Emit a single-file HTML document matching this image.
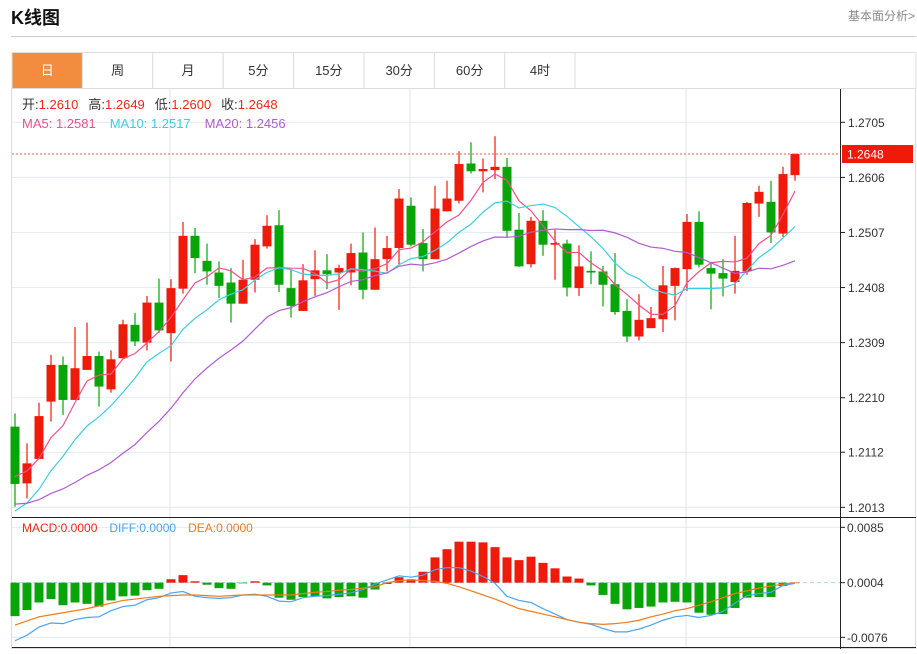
<!DOCTYPE html>
<html><head><meta charset="utf-8">
<style>
body{margin:0;background:#fff;width:917px;height:649px;overflow:hidden;font-family:"Liberation Sans","Noto Sans CJK SC",sans-serif;}
svg text{font-family:"Liberation Sans","Noto Sans CJK SC",sans-serif;}
</style></head>
<body>
<svg id="chart" width="917" height="649" xmlns="http://www.w3.org/2000/svg">
<text x="11" y="24" font-size="18" font-weight="bold" fill="#111">K线图</text>
<text x="915" y="20" font-size="12" fill="#888" text-anchor="end">基本面分析&gt;</text>
<line x1="11" y1="36.5" x2="916" y2="36.5" stroke="#ccc"/>
<g id="tabs"></g>
<rect x="11.5" y="88.5" width="904" height="560" fill="none" stroke="#ddd"/>
<g id="grid"></g><g id="main"></g><g id="macd"></g><g id="axes"></g>
<text x="22" y="109" font-size="13"><tspan fill="#333">开:</tspan><tspan fill="#f0261a">1.2610</tspan><tspan fill="#333" dx="10">高:</tspan><tspan fill="#f0261a">1.2649</tspan><tspan fill="#333" dx="10">低:</tspan><tspan fill="#f0261a">1.2600</tspan><tspan fill="#333" dx="10">收:</tspan><tspan fill="#f0261a">1.2648</tspan></text>
<text x="22" y="128" font-size="13"><tspan fill="#f0508c">MA5: 1.2581</tspan><tspan fill="#3dcde0" dx="14">MA10: 1.2517</tspan><tspan fill="#b05cd0" dx="14">MA20: 1.2456</tspan></text>
<text x="22" y="532" font-size="12"><tspan fill="#f0261a">MACD:0.0000</tspan><tspan fill="#4aa3f0" dx="12">DIFF:0.0000</tspan><tspan fill="#f07a1a" dx="12">DEA:0.0000</tspan></text>
</svg>
<script>
const opens=[1.2158,1.2056,1.2100,1.2203,1.2269,1.2206,1.2260,1.2285,1.2225,1.2281,1.2341,1.2309,1.2381,1.2326,1.2406,1.2501,1.2456,1.2435,1.2417,1.2379,1.2422,1.2482,1.2520,1.2407,1.2366,1.2423,1.2439,1.2435,1.2435,1.2471,1.2404,1.2459,1.2479,1.2555,1.2488,1.2459,1.2545,1.2564,1.2631,1.2617,1.2619,1.2625,1.2512,1.2450,1.2528,1.2485,1.2487,1.2407,1.2438,1.2437,1.2414,1.2366,1.2320,1.2335,1.2351,1.2411,1.2441,1.2526,1.2443,1.2434,1.2418,1.2437,1.2559,1.2562,1.2505,1.2610];
const closes=[1.2055,1.2092,1.2177,1.2269,1.2206,1.2263,1.2285,1.2230,1.2279,1.2342,1.2311,1.2381,1.2331,1.2407,1.2501,1.2461,1.2437,1.2411,1.2379,1.2422,1.2485,1.2519,1.2413,1.2375,1.2421,1.2439,1.2432,1.2443,1.2470,1.2404,1.2459,1.2479,1.2568,1.2485,1.2459,1.2550,1.2568,1.2630,1.2617,1.2621,1.2625,1.2510,1.2446,1.2528,1.2485,1.2488,1.2408,1.2446,1.2435,1.2413,1.2364,1.2320,1.2350,1.2353,1.2412,1.2443,1.2526,1.2449,1.2433,1.2424,1.2438,1.2560,1.2580,1.2507,1.2612,1.2648];
const highs=[1.2182,1.2128,1.2201,1.2287,1.2284,1.2337,1.2345,1.2293,1.2295,1.2350,1.2362,1.2393,1.2424,1.2423,1.2526,1.2515,1.2487,1.2455,1.2443,1.2458,1.2495,1.2538,1.2547,1.2440,1.2450,1.2475,1.2468,1.2449,1.2487,1.2507,1.2516,1.2501,1.2585,1.2570,1.2513,1.2591,1.2600,1.2653,1.2669,1.2640,1.2680,1.2641,1.2542,1.2535,1.2547,1.2512,1.2494,1.2484,1.2473,1.2447,1.2470,1.2387,1.2396,1.2373,1.2447,1.2444,1.2540,1.2545,1.2451,1.2459,1.2501,1.2562,1.2591,1.2600,1.2625,1.2649];
const lows=[1.2014,1.2029,1.2100,1.2167,1.2179,1.2206,1.2260,1.2194,1.2219,1.2281,1.2303,1.2295,1.2326,1.2275,1.2397,1.2434,1.2413,1.2389,1.2345,1.2379,1.2399,1.2478,1.2400,1.2354,1.2366,1.2393,1.2405,1.2368,1.2412,1.2387,1.2404,1.2437,1.2450,1.2482,1.2437,1.2459,1.2545,1.2559,1.2613,1.2579,1.2603,1.2498,1.2445,1.2444,1.2465,1.2422,1.2392,1.2393,1.2414,1.2374,1.2359,1.2310,1.2313,1.2335,1.2328,1.2349,1.2402,1.2444,1.2369,1.2392,1.2397,1.2431,1.2535,1.2488,1.2499,1.2600];
const prevCloses=[1.2060,1.2050,1.2045,1.2040,1.2035,1.2030,1.2025,1.2020,1.2010,1.1995,1.1950,1.1930,1.1935,1.1945,1.1965,1.2040,1.2065,1.2080,1.2100];
const macdBars=[-0.0049,-0.0040,-0.0029,-0.0024,-0.0033,-0.0029,-0.0031,-0.0035,-0.0026,-0.0020,-0.0019,-0.0011,-0.0009,0.0005,0.0011,0.0002,-0.0003,-0.0008,-0.0009,-0.0001,0.0002,-0.0004,-0.0022,-0.0025,-0.0021,-0.0020,-0.0023,-0.0021,-0.0020,-0.0022,-0.0010,-0.0002,0.0008,0.0005,0.0016,0.0037,0.0049,0.0060,0.0060,0.0059,0.0052,0.0037,0.0033,0.0038,0.0029,0.0021,0.0009,0.0006,-0.0004,-0.0018,-0.0031,-0.0039,-0.0037,-0.0035,-0.0029,-0.0028,-0.0029,-0.0044,-0.0047,-0.0046,-0.0037,-0.0022,-0.0021,-0.0021,-0.0005,0.0000];
const difValues=[-0.0085,-0.0077,-0.0065,-0.0059,-0.0060,-0.0054,-0.0051,-0.0050,-0.0041,-0.0035,-0.0033,-0.0025,-0.0022,-0.0015,-0.0013,-0.0020,-0.0022,-0.0023,-0.0022,-0.0018,-0.0017,-0.0020,-0.0027,-0.0028,-0.0022,-0.0020,-0.0019,-0.0017,-0.0015,-0.0010,-0.0002,0.0004,0.0010,0.0008,0.0011,0.0019,0.0022,0.0022,0.0017,0.0009,-0.0001,-0.0020,-0.0026,-0.0029,-0.0038,-0.0046,-0.0054,-0.0058,-0.0061,-0.0067,-0.0072,-0.0072,-0.0068,-0.0062,-0.0055,-0.0050,-0.0048,-0.0051,-0.0048,-0.0042,-0.0030,-0.0019,-0.0016,-0.0014,-0.0004,-0.0001];
const deaValues=[-0.0062,-0.0056,-0.0050,-0.0047,-0.0044,-0.0041,-0.0038,-0.0034,-0.0030,-0.0026,-0.0024,-0.0022,-0.0020,-0.0019,-0.0018,-0.0018,-0.0019,-0.0020,-0.0019,-0.0018,-0.0018,-0.0018,-0.0018,-0.0018,-0.0016,-0.0014,-0.0013,-0.0011,-0.0010,-0.0008,-0.0006,0.0000,0.0003,0.0004,0.0003,0.0002,-0.0001,-0.0006,-0.0012,-0.0018,-0.0024,-0.0031,-0.0038,-0.0042,-0.0046,-0.0050,-0.0054,-0.0058,-0.0060,-0.0061,-0.0060,-0.0058,-0.0055,-0.0050,-0.0046,-0.0041,-0.0038,-0.0033,-0.0028,-0.0022,-0.0016,-0.0012,-0.0008,-0.0005,-0.0002,0.0000];
const priceTicks=[1.2705,1.2606,1.2507,1.2408,1.2309,1.2210,1.2112,1.2013];
const macdTicks=[0.0085,0.0004,-0.0076];
const tabLabels=["日","周","月","5分","15分","30分","60分","4时"];
const lastPrice=1.2648;

const NS="http://www.w3.org/2000/svg";
function mk(parent,tag,attrs){const e=document.createElementNS(NS,tag);for(const k in attrs)e.setAttribute(k,attrs[k]);parent.appendChild(e);return e;}
const xAt=i=>15+i*12;
const yP=p=>122.3+(1.2705-p)*5564;
const yM=v=>585.4-v*6832;
const RED="#f01a0a",GREEN="#08a508";

// tabs
const tabs=document.getElementById('tabs');
tabLabels.forEach((t,i)=>{
  const x=12+i*70.4;
  const r=mk(tabs,'rect',{x:x,y:52.5,width:70.4,height:36,fill:i===0?'#f28c3f':'#fff',stroke:'#ddd'});
  
  
  const tx=mk(tabs,'text',{x:x+35.2,y:75,'font-size':13,'text-anchor':'middle',fill:i===0?'#fff':'#333'});
  tx.textContent=t;
  
  
});
mk(tabs,'rect',{x:575,y:52.5,width:341,height:36,fill:'#fff',stroke:'#ddd'});

// grid
const grid=document.getElementById('grid');
priceTicks.forEach(p=>{const l=mk(grid,'line',{x1:12,x2:840,y1:yP(p),y2:yP(p),stroke:'#e3ebf2'});

});
macdTicks.forEach(v=>{if(Math.abs(v-0.0004)<1e-6)return;const l=mk(grid,'line',{x1:12,x2:840,y1:yM(v),y2:yM(v),stroke:'#e3ebf2'});

});
[170,410,686].forEach(x=>{const l=mk(grid,'line',{x1:x,x2:x,y1:89,y2:648,stroke:'#dce6ef'});

});
mk(grid,'line',{x1:12,x2:840,y1:yM(0.0004),y2:yM(0.0004),stroke:'#a8d8ee','stroke-dasharray':'4,3'});

// main candles
const main=document.getElementById('main');
const lp=mk(main,'line',{x1:12,x2:840,y1:yP(lastPrice),y2:yP(lastPrice),stroke:'#f05a4a','stroke-dasharray':'2,2'});


function maSeries(n){const all=prevCloses.concat(closes),off=prevCloses.length;return closes.map((c,i)=>{let s=0,k=0;for(let j=off+i;j>off+i-n&&j>=0;j--){s+=all[j];k++;}return s/k;});}
closes.forEach((c,i)=>{
  const o=opens[i],up=c>=o,col=up?RED:GREEN,x=xAt(i);
  const w=mk(main,'line',{x1:x,x2:x,y1:yP(highs[i]),y2:yP(lows[i]),stroke:col,'stroke-width':1.2});
  
  
  const t=yP(Math.max(o,c)),b=yP(Math.min(o,c));
  const r=mk(main,'rect',{x:x-4.5,y:t,width:9,height:Math.max(b-t,1.5),fill:col});
  
  
});
[[5,'#f0508c','ma5-line'],[10,'#3dcde0','ma10-line'],[20,'#b05cd0','ma20-line']].forEach(([n,col,name])=>{
  const s=maSeries(n);
  const pl=mk(main,'polyline',{points:s.map((v,i)=>xAt(i)+','+yP(v)).join(' '),fill:'none',stroke:col,'stroke-width':1.2});
  
  
});

// macd
const mg=document.getElementById('macd');
macdBars.forEach((v,i)=>{
  const y0=yM(0.0004),y1=yM(v+0.0004*0)+0;
  const top=Math.min(y0,yM(v)-(yM(0)-y0)),bot=Math.max(y0,yM(v)-(yM(0)-y0));
  const r=mk(mg,'rect',{x:xAt(i)-4.5,y:top,width:9,height:Math.max(bot-top,0.5),fill:v>=0?RED:GREEN});
  
  
});
const shift=yM(0.0004)-yM(0);
const dl=mk(mg,'polyline',{points:difValues.map((v,i)=>xAt(i)+','+(yM(v)+shift)).join(' '),fill:'none',stroke:'#4aa3f0','stroke-width':1.2});


const el=mk(mg,'polyline',{points:deaValues.map((v,i)=>xAt(i)+','+(yM(v)+shift)).join(' '),fill:'none',stroke:'#f07a1a','stroke-width':1.2});



// axes
const ax=document.getElementById('axes');
mk(ax,'line',{x1:840.5,x2:840.5,y1:89,y2:649,stroke:'#222'});
mk(ax,'line',{x1:12,x2:916,y1:517.5,y2:517.5,stroke:'#222'});
mk(ax,'line',{x1:12,x2:916,y1:647.5,y2:647.5,stroke:'#222'});
priceTicks.forEach(p=>{
  mk(ax,'line',{x1:840,x2:845,y1:yP(p),y2:yP(p),stroke:'#222'});
  const t=mk(ax,'text',{x:848,y:yP(p)+4.5,'font-size':12,fill:'#333'});
  t.textContent=p.toFixed(4);
  
  
});
macdTicks.forEach(v=>{
  const y=Math.abs(v-0.0004)<1e-6?yM(0.0004):yM(v);
  mk(ax,'line',{x1:840,x2:845,y1:y,y2:y,stroke:'#222'});
  const t=mk(ax,'text',{x:847,y:y+4.5,'font-size':12,fill:'#333'});
  t.textContent=v.toFixed(4);
  
  
});
const lb=mk(ax,'rect',{x:842,y:yP(lastPrice)-9,width:71,height:18,fill:'#f01a0a'});


const lt=mk(ax,'text',{x:847,y:yP(lastPrice)+4.5,'font-size':12,fill:'#fff'});
lt.textContent=lastPrice.toFixed(4);


</script>
</body></html>
